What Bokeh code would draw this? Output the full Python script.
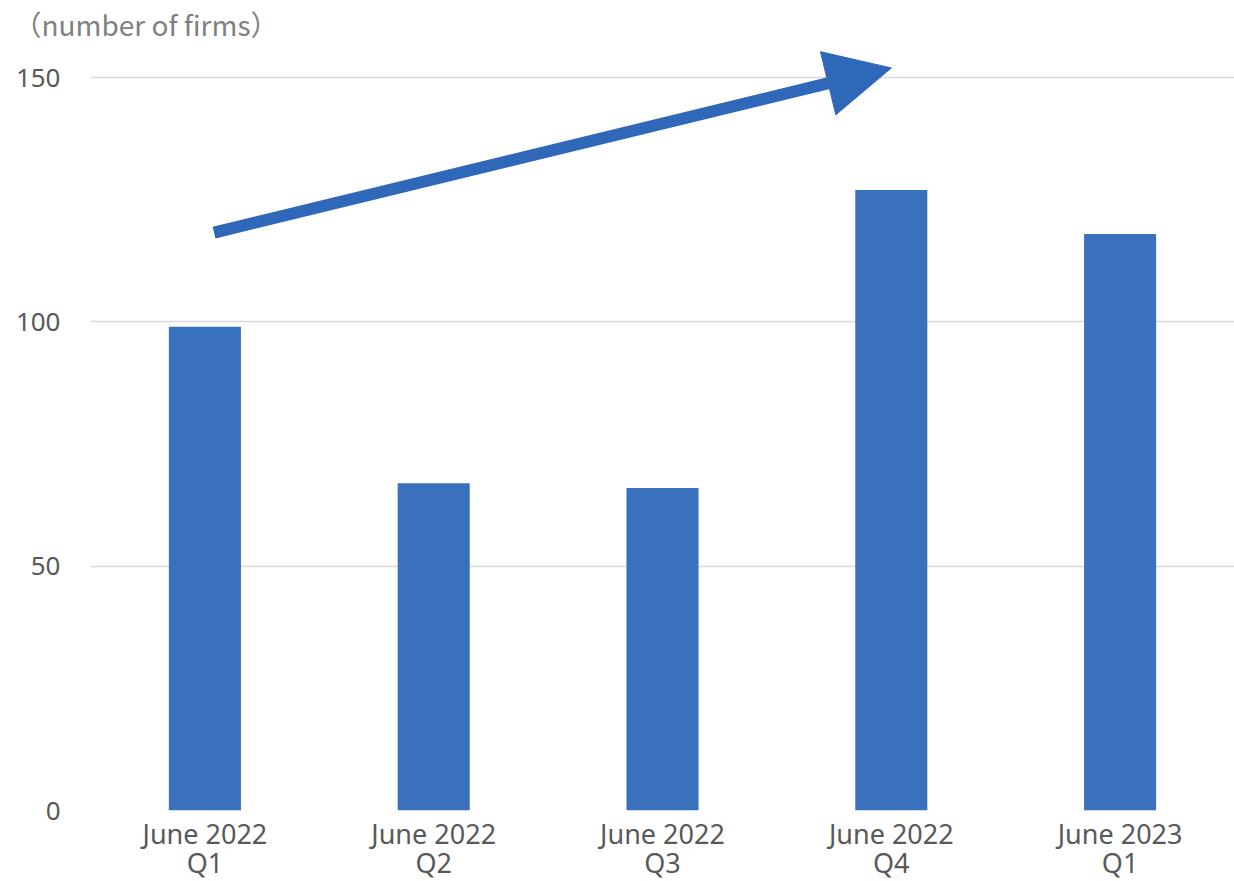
from bokeh.plotting import figure
from bokeh.models import Range1d, FixedTicker, Arrow, NormalHead, ColumnDataSource
from bokeh.embed import file_html
from bokeh.resources import INLINE

categories = ["June 2022\nQ1", "June 2022\nQ2", "June 2022\nQ3", "June 2022\nQ4", "June 2023\nQ1"]
values = [99, 67, 66, 127, 118]
y_ticks = [0, 50, 100, 150]
y_title = "（number of firms）"
arrow_start = [0.04, 118.3]
arrow_end = [3.0, 152.0]

xs = list(range(len(categories)))
src = ColumnDataSource(dict(x=xs, top=values))

FONT = "Noto Sans"

p = figure(frame_width=1144, frame_height=767, output_backend="svg", toolbar_location=None,
           x_range=Range1d(-0.5, len(categories) - 0.5), y_range=Range1d(0, 157),
           min_border_left=90, min_border_right=0, min_border_top=43, min_border_bottom=71,
           title=y_title)
p.outline_line_color = None
p.background_fill_color = "white"
p.border_fill_color = "white"

p.title.text_font = "Noto Sans CJK JP"
p.title.text_font_size = "28px"
p.title.text_font_style = "normal"
p.title.text_color = "#808080"
p.title.align = "left"
p.title.offset = -77
p.title.standoff = 0

p.vbar(x="x", top="top", width=0.315, source=src, color="#3A71BD", line_color=None)

p.xaxis.ticker = FixedTicker(ticks=xs)
p.xaxis.major_label_overrides = {i: c for i, c in enumerate(categories)}
p.yaxis.ticker = FixedTicker(ticks=y_ticks)
for ax in (p.xaxis[0], p.yaxis[0]):
    ax.axis_line_color = None
    ax.major_tick_line_color = None
    ax.minor_tick_line_color = None
    ax.major_tick_out = 0
    ax.major_tick_in = 0
    ax.minor_tick_out = 0
    ax.minor_tick_in = 0
    ax.major_label_text_color = "#595959"
    ax.major_label_text_font = FONT
p.yaxis.major_label_text_font_size = "26px"
p.xaxis.major_label_text_font_size = "27px"
p.yaxis.major_label_standoff = 30
p.xaxis.major_label_standoff = 4
p.xaxis.major_label_text_line_height = 0.8

p.xgrid.grid_line_color = None
p.ygrid.ticker = FixedTicker(ticks=y_ticks)
p.ygrid.grid_line_color = "#D9D9D9"
p.ygrid.grid_line_width = 1.5

p.add_layout(Arrow(end=NormalHead(size=65, fill_color="#2F68B8", line_color="#2F68B8"),
                   x_start=arrow_start[0], y_start=arrow_start[1],
                   x_end=arrow_end[0], y_end=arrow_end[1],
                   line_color="#2F68B8", line_width=12))

open("out.html", "w").write(file_html(p, INLINE))
